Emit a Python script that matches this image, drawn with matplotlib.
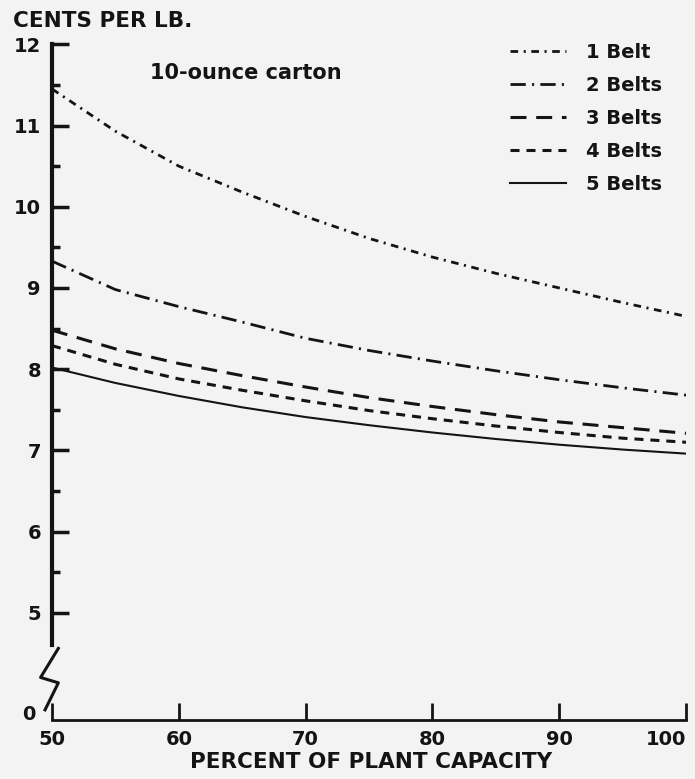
import matplotlib
matplotlib.use("Agg")
import matplotlib.pyplot as plt

plt.rcParams['font.family'] = ['DejaVu Sans']
plt.rcParams['font.weight'] = 'bold'
plt.rcParams['lines.scale_dashes'] = False

# percent of plant capacity
capacity = [50, 55, 60, 65, 70, 75, 80, 85, 90, 95, 100]

# cents per lb., 10-ounce carton
belt_1 = [11.45, 10.93, 10.50, 10.18, 9.88, 9.61, 9.38, 9.18, 9.00, 8.82, 8.65]
belt_2 = [9.33, 8.98, 8.77, 8.58, 8.38, 8.23, 8.10, 7.98, 7.87, 7.77, 7.68]
belt_3 = [8.48, 8.25, 8.07, 7.92, 7.78, 7.65, 7.54, 7.44, 7.35, 7.28, 7.21]
belt_4 = [8.29, 8.06, 7.88, 7.74, 7.61, 7.49, 7.39, 7.30, 7.22, 7.15, 7.10]
belt_5 = [8.02, 7.83, 7.67, 7.53, 7.41, 7.31, 7.22, 7.14, 7.07, 7.01, 6.96]

labels = ['1 Belt', '2 Belts', '3 Belts', '4 Belts', '5 Belts']
yticks = [5, 6, 7, 8, 9, 10, 11, 12]
xticks = [50, 60, 70, 80, 90, 100]

ink = '#141414'
bg = '#f3f3f3'
styles = {
    '1 Belt': {'linestyle': (0, (5.5, 4.0, 1.5, 4.0)), 'linewidth': 2.0},
    '2 Belts': {'linestyle': (0, (11.0, 4.5, 1.5, 4.5)), 'linewidth': 2.0},
    '3 Belts': {'linestyle': (0, (11.5, 7.0)), 'linewidth': 2.2},
    '4 Belts': {'linestyle': (0, (6.5, 5.0)), 'linewidth': 2.2},
    '5 Belts': {'linestyle': '-', 'linewidth': 1.5},
}

# bottom of the broken axis: "0" sits 1.32 units under 5
y_floor = 3.68

fig = plt.figure(figsize=(6.95, 7.79), dpi=100, facecolor=bg)
ax = fig.add_axes([52 / 695, 59 / 779, 634 / 695, 675.7 / 779])
ax.set_facecolor(bg)

for label, series in zip(labels, [belt_1, belt_2, belt_3, belt_4, belt_5]):
    ax.plot(capacity, series, color=ink, label=label, **styles[label])

ax.set_xlim(50, 100)
ax.set_ylim(y_floor, 12)

for side in ['top', 'right']:
    ax.spines[side].set_visible(False)
ax.spines['left'].set_bounds(4.6, 12)
ax.spines['left'].set_linewidth(3.0)
ax.spines['bottom'].set_linewidth(2.0)
ax.spines['left'].set_color(ink)
ax.spines['bottom'].set_color(ink)

ax.set_xticks(xticks)
ax.set_xticklabels([str(t) for t in xticks])
ax.get_xticklabels()[-1].set_horizontalalignment('right')
ax.set_yticks(yticks)
ax.set_yticklabels([str(t) for t in yticks])
ax.set_yticks([t + 0.5 for t in yticks[:-1]], minor=True)
ax.tick_params(axis='x', direction='in', length=12, width=2, color=ink,
               labelsize=14, pad=7, labelcolor=ink)
ax.tick_params(axis='y', which='major', direction='in', length=12, width=2.5,
               color=ink, labelsize=14, pad=8, labelcolor=ink)
ax.tick_params(axis='y', which='minor', direction='in', length=6, width=2.5,
               color=ink)

# "0" at the foot of the broken axis
ax.annotate('0', xy=(0, y_floor), xycoords=('axes fraction', 'data'),
            xytext=(-12, 4), textcoords='offset points', ha='right',
            va='center', fontsize=14, color=ink)

# axis break mark
ax.plot([0.010, -0.018, 0.010, -0.011], [0.106, 0.063, 0.055, 0.015],
        transform=ax.transAxes, color=ink, linewidth=2.2, clip_on=False)

fig.text(13 / 695, 1 - 21 / 779, 'CENTS PER LB.', fontsize=15.5, color=ink,
         ha='left', va='center')
fig.text(150 / 695, 1 - 73 / 779, '10-ounce carton', fontsize=15, color=ink,
         ha='left', va='center')
fig.text(371 / 695, 1 - 762 / 779, 'PERCENT OF PLANT CAPACITY', fontsize=15.5,
         color=ink, ha='center', va='center')

leg = ax.legend(loc='upper left', bbox_to_anchor=(510 / 695, 1 - 43 / 779),
                bbox_transform=fig.transFigure, frameon=False, fontsize=14,
                handlelength=2.9, handletextpad=1.0, labelspacing=0.72,
                borderpad=0, borderaxespad=0)
for text in leg.get_texts():
    text.set_color(ink)

fig.savefig('out.png', dpi=100, facecolor=bg)
